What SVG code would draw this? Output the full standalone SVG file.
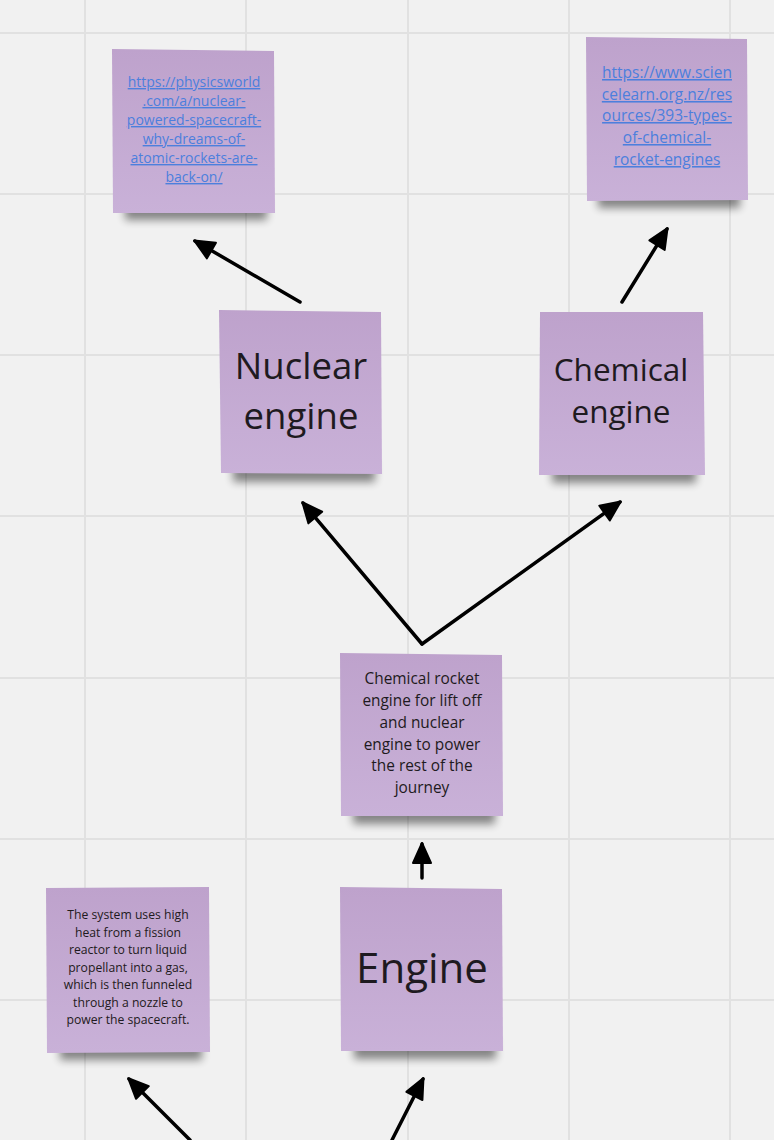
<svg xmlns="http://www.w3.org/2000/svg" width="774" height="1140" viewBox="0 0 774 1140">
<style>
  .grid line { stroke: #e1e1e1; stroke-width: 2; }
  .note { fill: url(#noteGrad); }
  .shadow { fill: #000; opacity: 0.45; filter: url(#blur); }
  .t { font-family: "Open Sans", "Noto Sans", "Liberation Sans", sans-serif; fill: #1e1a20; text-anchor: middle; }
  .link { font-family: "Open Sans", "Noto Sans", "Liberation Sans", sans-serif; fill: #4c7fdd; text-anchor: middle; text-decoration: underline; }
  .conn line { stroke: #000; stroke-width: 3.5; stroke-linecap: round; marker-end: url(#arrow); }
</style>
<defs>
  <linearGradient id="noteGrad" x1="0" y1="0" x2="0" y2="1">
    <stop offset="0" stop-color="#bea2cc"/>
    <stop offset="1" stop-color="#c9b1d8"/>
  </linearGradient>
  <filter id="blur" x="-20%" y="-60%" width="140%" height="220%">
    <feGaussianBlur stdDeviation="4.5"/>
  </filter>
  <marker id="arrow" viewBox="0 0 20 18" refX="19" refY="9" markerWidth="20" markerHeight="18" markerUnits="userSpaceOnUse" orient="auto" overflow="visible">
    <path d="M0,0 L20,9 L0,18 Z" fill="#000" stroke="#000" stroke-width="2" stroke-linejoin="round"/>
  </marker>
</defs>
<rect x="0" y="0" width="774" height="1140" fill="#f1f1f1"/>
<g class="grid">
  <line x1="85" y1="0" x2="85" y2="1140"/>
  <line x1="246" y1="0" x2="246" y2="1140"/>
  <line x1="408" y1="0" x2="408" y2="1140"/>
  <line x1="569" y1="0" x2="569" y2="1140"/>
  <line x1="730" y1="0" x2="730" y2="1140"/>
  <line x1="0" y1="33" x2="774" y2="33"/>
  <line x1="0" y1="194" x2="774" y2="194"/>
  <line x1="0" y1="355" x2="774" y2="355"/>
  <line x1="0" y1="516" x2="774" y2="516"/>
  <line x1="0" y1="678" x2="774" y2="678"/>
  <line x1="0" y1="839" x2="774" y2="839"/>
  <line x1="0" y1="1000" x2="774" y2="1000"/>
</g>

<g class="conn" id="connectors">
  <line x1="300" y1="302" x2="195" y2="241"/>
  <line x1="622" y1="302" x2="667" y2="229"/>
  <line x1="422" y1="644" x2="303" y2="503"/>
  <line x1="422" y1="644" x2="620" y2="502"/>
  <line x1="422" y1="878" x2="422" y2="844"/>
  <line x1="190" y1="1140" x2="129" y2="1079"/>
  <line x1="392" y1="1140" x2="423" y2="1079"/>
</g>

<g id="link-nuclear">
  <rect class="shadow" x="125" y="199" width="142" height="21"/>
  <polygon class="note" points="112,49 274,51 275,213 113,213"/>
  <text class="link" font-size="14" x="194" y="87">https://physicsworld</text>
  <text class="link" font-size="14" x="194" y="106">.com/a/nuclear-</text>
  <text class="link" font-size="14" x="194" y="125">powered-spacecraft-</text>
  <text class="link" font-size="14" x="194" y="144">why-dreams-of-</text>
  <text class="link" font-size="14" x="194" y="163">atomic-rockets-are-</text>
  <text class="link" font-size="14" x="194" y="182">back-on/</text>
</g>

<g id="link-chemical">
  <rect class="shadow" x="598" y="187" width="142" height="21"/>
  <polygon class="note" points="586,37 747,39 748,200 587,201"/>
  <text class="link" font-size="15.5" x="667" y="78">https://www.scien</text>
  <text class="link" font-size="15.5" x="667" y="100">celearn.org.nz/res</text>
  <text class="link" font-size="15.5" x="667" y="121">ources/393-types-</text>
  <text class="link" font-size="15.5" x="667" y="143">of-chemical-</text>
  <text class="link" font-size="15.5" x="667" y="165">rocket-engines</text>
</g>

<g id="nuclear-engine">
  <rect class="shadow" x="233" y="461" width="142" height="21"/>
  <polygon class="note" points="219,310 381,312 382,474 221,473"/>
  <text class="t" font-size="36.5" x="301" y="379">Nuclear</text>
  <text class="t" font-size="36.5" x="301" y="429">engine</text>
</g>

<g id="chemical-engine">
  <rect class="shadow" x="552" y="462" width="144" height="21"/>
  <polygon class="note" points="540,312 703,312 705,475 539,475"/>
  <text class="t" font-size="31.5" x="621" y="381">Chemical</text>
  <text class="t" font-size="31.5" x="621" y="423">engine</text>
</g>

<g id="combined">
  <rect class="shadow" x="353" y="803" width="142" height="21"/>
  <polygon class="note" points="340,653 502,655 503,816 341,816"/>
  <text class="t" font-size="15.4" x="422" y="684">Chemical rocket</text>
  <text class="t" font-size="15.4" x="422" y="706">engine for lift off</text>
  <text class="t" font-size="15.4" x="422" y="728">and nuclear</text>
  <text class="t" font-size="15.4" x="422" y="750">engine to power</text>
  <text class="t" font-size="15.4" x="422" y="771">the rest of the</text>
  <text class="t" font-size="15.4" x="422" y="793">journey</text>
</g>

<g id="nuclear-description">
  <rect class="shadow" x="60" y="1039" width="142" height="21"/>
  <polygon class="note" points="46,888 209,887 210,1052 47,1053"/>
  <text class="t" font-size="12.2" x="128" y="919">The system uses high</text>
  <text class="t" font-size="12.2" x="128" y="937">heat from a fission</text>
  <text class="t" font-size="12.2" x="128" y="954">reactor to turn liquid</text>
  <text class="t" font-size="12.2" x="128" y="972">propellant into a gas,</text>
  <text class="t" font-size="12.2" x="128" y="989">which is then funneled</text>
  <text class="t" font-size="12.2" x="128" y="1007">through a nozzle to</text>
  <text class="t" font-size="12.2" x="128" y="1024">power the spacecraft.</text>
</g>

<g id="engine">
  <rect class="shadow" x="354" y="1038" width="142" height="21"/>
  <polygon class="note" points="340,887 502,889 503,1051 341,1051"/>
  <text class="t" font-size="42" x="422" y="983">Engine</text>
</g>
</svg>
